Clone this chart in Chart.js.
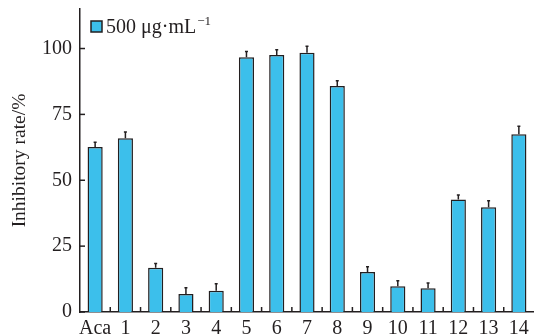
<!DOCTYPE html>
<html>
<head>
<meta charset="utf-8">
<script src="https://cdn.jsdelivr.net/npm/chart.js@4.4.0/dist/chart.umd.min.js"></script>
<style>
  html, body { margin: 0; padding: 0; background: #fff; }
  #wrap { width: 534px; height: 335px; }
</style>
</head>
<body>
<div id="wrap"><canvas id="chart" width="534" height="335"></canvas></div>
<script>
const categories = ['Aca', '1', '2', '3', '4', '5', '6', '7', '8', '9', '10', '11', '12', '13', '14'];
const inhibition = [62.6, 65.9, 16.8, 6.8, 8.1, 96.7, 97.5, 98.4, 85.8, 15.2, 9.8, 9.0, 42.7, 39.8, 67.5];
const errors = [1.8, 2.4, 1.6, 2.4, 2.6, 2.2, 2.0, 2.5, 2.0, 2.0, 2.1, 2.0, 1.7, 2.4, 3.0];
const yTicks = [0, 25, 50, 75, 100];
const seriesLabel = '500 μg·mL';

const ink = '#231f20';
const barBlue = '#3cbfeb';
const serif = "'Liberation Serif', 'Times New Roman', serif";

// short ticks pointing into the plot, plus the one-sided error bars
const inwardTicks = {
    id: 'inwardTicks',
    afterDatasetsDraw(chart) {
        const { ctx, chartArea, scales } = chart;
        const x = scales.x, y = scales.y;
        ctx.save();
        ctx.strokeStyle = ink;
        ctx.lineWidth = 1.5;

        // error bars (upper half only)
        const meta = chart.getDatasetMeta(0);
        meta.data.forEach((bar, i) => {
            const top = y.getPixelForValue(inhibition[i] + errors[i]);
            ctx.beginPath();
            ctx.moveTo(bar.x, bar.y);
            ctx.lineTo(bar.x, top);
            ctx.moveTo(bar.x - 1.5, top);
            ctx.lineTo(bar.x + 1.5, top);
            ctx.stroke();
        });

        // y ticks
        yTicks.forEach(v => {
            const py = y.getPixelForValue(v);
            ctx.beginPath();
            ctx.moveTo(chartArea.left, py);
            ctx.lineTo(chartArea.left + 5, py);
            ctx.stroke();
        });

        // x ticks between categories
        const step = (chartArea.right - chartArea.left) / categories.length;
        for (let i = 1; i < categories.length; i++) {
            const px = chartArea.left + step * i;
            ctx.beginPath();
            ctx.moveTo(px, chartArea.bottom);
            ctx.lineTo(px, chartArea.bottom - 5);
            ctx.stroke();
        }

        // legend
        ctx.fillStyle = barBlue;
        ctx.fillRect(91, 21, 11, 11);
        ctx.strokeRect(91, 21, 11, 11);
        ctx.fillStyle = ink;
        ctx.font = "20px " + serif;
        ctx.textBaseline = 'alphabetic';
        ctx.fillText(seriesLabel, 106, 33);
        const w = ctx.measureText(seriesLabel).width;
        ctx.font = "13px " + serif;
        ctx.fillText('−1', 106 + w + 1, 25);
        ctx.restore();
    }
};

const ctx = document.getElementById('chart').getContext('2d');
new Chart(ctx, {
    type: 'bar',
    data: {
        labels: categories,
        datasets: [{
            label: seriesLabel,
            data: inhibition,
            backgroundColor: barBlue,
            borderColor: ink,
            borderWidth: 1.5,
            borderSkipped: 'bottom',
            categoryPercentage: 0.5,
            barPercentage: 1
        }]
    },
    options: {
        responsive: false,
        animation: false,
        layout: { padding: { top: 9, right: 0, left: 0, bottom: 0 } },
        plugins: {
            legend: { display: false },
            tooltip: { enabled: false }
        },
        scales: {
            x: {
                grid: { display: false, drawTicks: false },
                border: { display: true, color: ink, width: 1.5 },
                ticks: {
                    color: ink,
                    padding: 5,
                    maxRotation: 0,
                    autoSkip: false,
                    font: { family: serif, size: 20 }
                },
                afterFit: scale => { scale.height = 23; scale.paddingRight = 0; scale.paddingLeft = 0; }
            },
            y: {
                min: 0,
                max: 115,
                grid: { display: false, drawTicks: false },
                border: { display: true, color: ink, width: 1.5 },
                ticks: {
                    stepSize: 25,
                    includeBounds: false,
                    color: ink,
                    padding: 8,
                    font: { family: serif, size: 20 }
                },
                title: {
                    display: true,
                    text: 'Inhibitory rate/%',
                    color: ink,
                    padding: { top: 8, bottom: 0 },
                    font: { family: serif, size: 19.5 }
                },
                afterFit: scale => { scale.width = 80; scale.paddingTop = 0; scale.paddingBottom = 0; }
            }
        }
    },
    plugins: [inwardTicks]
});
</script>
</body>
</html>
